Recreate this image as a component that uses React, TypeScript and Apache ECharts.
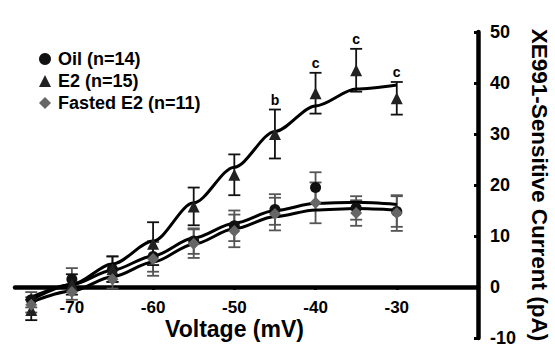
import React, { useEffect, useRef } from "react";
import * as echarts from "echarts";

const voltages = [-75, -70, -65, -60, -55, -50, -45, -40, -35, -30];
const oil = [-2.5, 1.5, 3.5, 6, 9, 12, 15.2, 19.5, 15.5, 14.8];
const oilErr = [1.5, 2.2, 2.5, 3, 2.5, 3, 3, 3, 2.3, 3];
const e2 = [-4.5, 0.5, 3.5, 8.5, 15.8, 22, 30, 38, 42.5, 37];
const e2Err = [2, 2, 2.5, 4.2, 3.7, 4, 4.8, 4, 4.2, 3.2];
const fasted = [-3.5, -1, 1.5, 5.5, 8.5, 11, 14.3, 16.5, 14.5, 14.5];
const fastedErr = [1.5, 1.5, 1.8, 3.3, 2.8, 3.2, 3.2, 4, 2.5, 3.5];
const e2Sig = ["", "", "", "", "", "", "b", "c", "c", "c"];
const oilFit = [-2, 0.5, 3.3, 6.1, 9.6, 12.5, 15, 16.4, 16.6, 16.2];
const e2Fit = [-2.5, 0.5, 4.5, 9, 16.5, 23.5, 30.5, 35.5, 38.8, 39.6];
const fastedFit = [-3, -0.8, 2, 4.9, 8.4, 11.4, 13.8, 15.1, 15.4, 15.1];
const xTicks = [-70, -60, -50, -40, -30];
const xTitle = "Voltage (mV)";

const FONT = "'Liberation Sans', Arial, sans-serif";

function pairs(ys: number[]) {
  return voltages.map((v, i) => [v, ys[i]]);
}
function errRows(ys: number[], es: number[]) {
  return voltages.map((v, i) => [v, ys[i], es[i]]);
}

function errorSeries(ys: number[], es: number[], color: string, labels?: string[]) {
  return {
    type: "custom",
    z: 2,
    silent: true,
    data: errRows(ys, es),
    encode: { x: 0, y: 1 },
    renderItem: (params: any, api: any) => {
      const x = api.value(0);
      const y = api.value(1);
      const e = api.value(2);
      const top = api.coord([x, y + e]);
      const bot = api.coord([x, y - e]);
      const hw = 6;
      const st = { stroke: color, lineWidth: 1.8 };
      const children: any[] = [
        { type: "line", shape: { x1: top[0], y1: top[1], x2: bot[0], y2: bot[1] }, style: st },
        { type: "line", shape: { x1: top[0] - hw, y1: top[1], x2: top[0] + hw, y2: top[1] }, style: st },
        { type: "line", shape: { x1: bot[0] - hw, y1: bot[1], x2: bot[0] + hw, y2: bot[1] }, style: st },
      ];
      const lab = labels ? labels[params.dataIndex] : "";
      if (lab) {
        children.push({
          type: "text",
          style: {
            text: lab,
            x: top[0],
            y: top[1] - 3,
            align: "center",
            verticalAlign: "bottom",
            fill: "#000",
            font: `bold 14px ${FONT}`,
          },
        });
      }
      return { type: "group", children };
    },
  };
}

function fitSeries(ys: number[]) {
  return {
    type: "line",
    z: 3,
    silent: true,
    data: pairs(ys),
    smooth: 0.3,
    smoothMonotone: "x",
    showSymbol: false,
    symbol: "none",
    lineStyle: { color: "#000", width: 3 },
  };
}

export default function App() {
  const ref = useRef<HTMLDivElement>(null);
  useEffect(() => {
    if (!ref.current) return;
    const chart = echarts.init(ref.current, null, { renderer: "svg" });
    chart.setOption({
      animation: false,
      backgroundColor: "#fff",
      textStyle: { fontFamily: FONT },
      grid: { left: 15, right: 77, top: 32, bottom: 10, outerBoundsMode: "none", containLabel: false },
      legend: {
        orient: "vertical",
        left: 34,
        top: 45,
        itemWidth: 12,
        itemHeight: 12,
        itemGap: 4,
        data: ["Oil (n=14)", "E2 (n=15)", "Fasted E2 (n=11)"],
        textStyle: { fontFamily: FONT, fontWeight: "bold", fontSize: 18, color: "#000", padding: [0, 0, 0, 2] },
      },
      xAxis: {
        type: "value",
        min: -77,
        max: -20,
        splitLine: { show: false },
        axisLine: { onZero: true, lineStyle: { color: "#000", width: 4.5 } },
        axisTick: { show: true, customValues: xTicks, length: 3, lineStyle: { width: 3, color: "#000" } },
        axisLabel: { show: false },
      },
      yAxis: {
        type: "value",
        position: "right",
        min: -10,
        max: 50,
        interval: 10,
        splitLine: { show: false },
        axisLine: { show: true, lineStyle: { color: "#000", width: 4.5 } },
        axisTick: { show: true, inside: true, length: 4, lineStyle: { width: 3, color: "#000" } },
        axisLabel: { margin: 12, fontFamily: FONT, fontWeight: "bold", fontSize: 18, color: "#000" },
        name: "XE991-Sensitive Current (pA)",
        nameLocation: "middle",
        nameRotate: -90,
        nameGap: 50,
        nameTextStyle: { fontFamily: FONT, fontWeight: "bold", fontSize: 22.5, color: "#000" },
      },
      series: [
        errorSeries(oil, oilErr, "#555"),
        errorSeries(fasted, fastedErr, "#555"),
        errorSeries(e2, e2Err, "#111", e2Sig),
        fitSeries(oilFit),
        fitSeries(fastedFit),
        fitSeries(e2Fit),
        {
          name: "Oil (n=14)",
          type: "scatter",
          z: 4,
          data: pairs(oil),
          symbol: "circle",
          symbolSize: 11,
          itemStyle: { color: "#111", opacity: 1 },
        },
        {
          name: "E2 (n=15)",
          type: "scatter",
          z: 4,
          data: pairs(e2),
          symbol: "triangle",
          symbolSize: 12,
          itemStyle: { color: "#222", opacity: 1 },
        },
        {
          name: "Fasted E2 (n=11)",
          type: "scatter",
          z: 4,
          data: pairs(fasted),
          symbol: "diamond",
          symbolSize: 12,
          itemStyle: { color: "#666", opacity: 1 },
        },
      ],
    });

    // x-axis labels and title placed along the zero line, through the axis scales
    const y0 = chart.convertToPixel({ yAxisIndex: 0 }, 0) as number;
    const labels: any[] = xTicks.map((t) => ({
      type: "text",
      x: chart.convertToPixel({ xAxisIndex: 0 }, t) as number,
      y: y0 + 12,
      style: {
        text: String(t),
        align: "center",
        verticalAlign: "top",
        fill: "#000",
        font: `bold 17px ${FONT}`,
      },
    }));
    const xMid = ((chart.convertToPixel({ xAxisIndex: 0 }, -77) as number) + (chart.convertToPixel({ xAxisIndex: 0 }, -20) as number)) / 2;
    labels.push({
      type: "text",
      x: xMid - 12,
      y: y0 + 30,
      style: {
        text: xTitle,
        align: "center",
        verticalAlign: "top",
        fill: "#000",
        font: `bold 23px ${FONT}`,
      },
    });
    chart.setOption({ graphic: labels });
    return () => chart.dispose();
  }, []);
  return <div ref={ref} style={{ width: 555, height: 348, position: "absolute", left: 0, top: 0 }} />;
}
